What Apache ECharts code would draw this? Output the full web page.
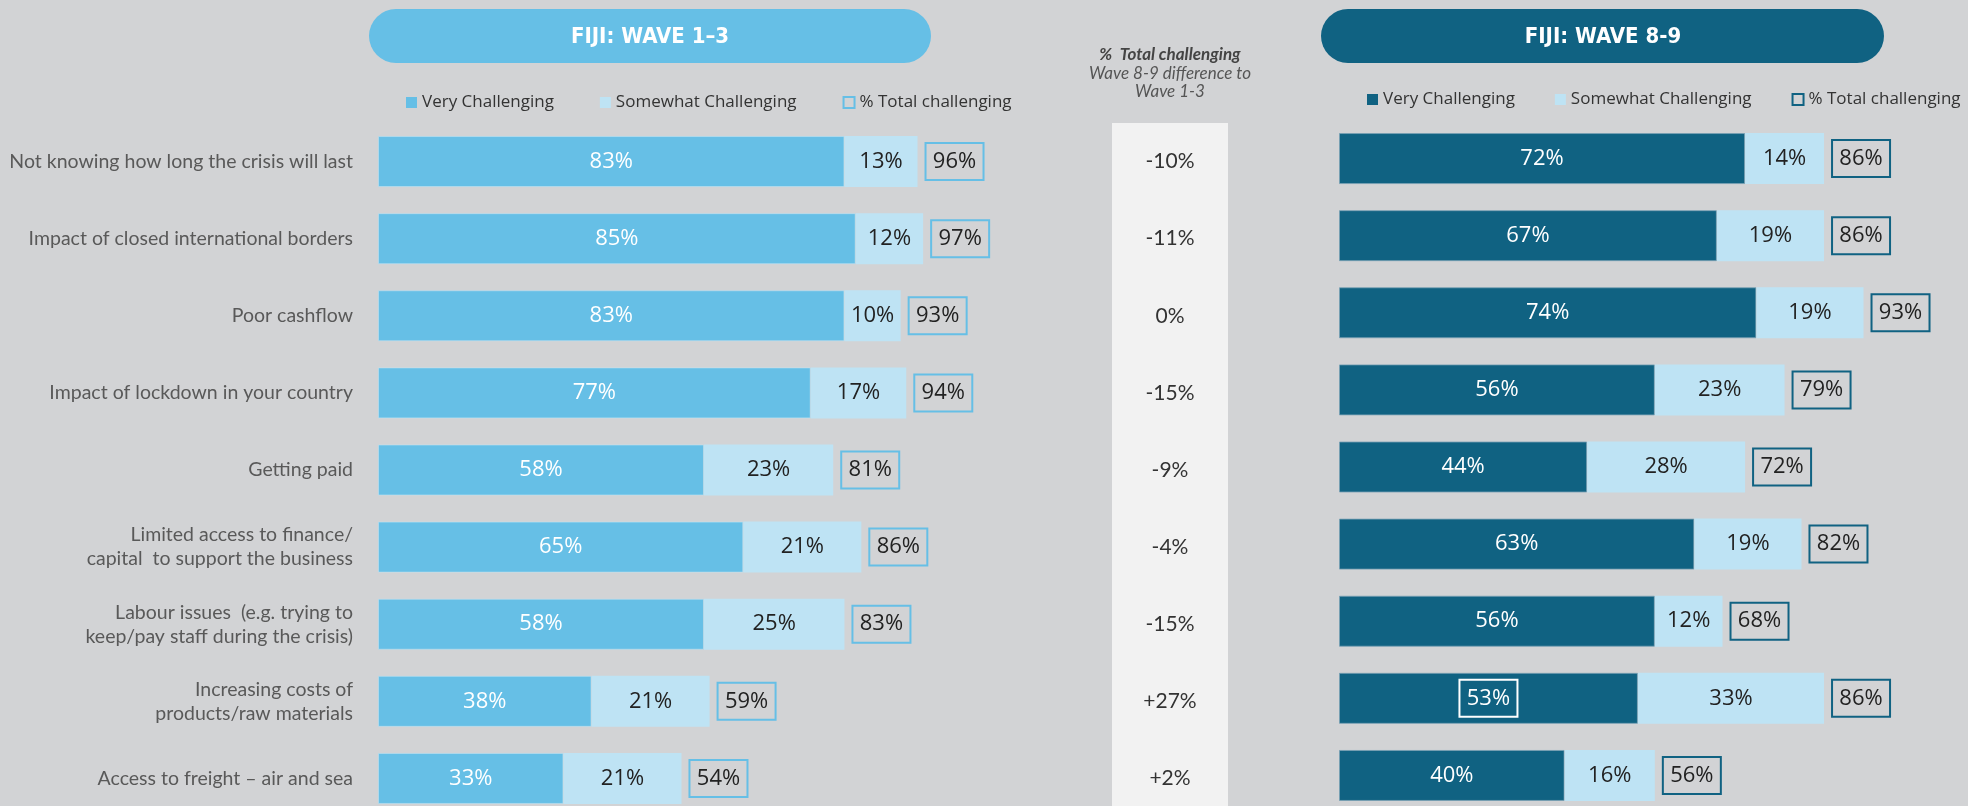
<!DOCTYPE html>
<html>
<head>
<meta charset="utf-8">
<script src="https://cdn.jsdelivr.net/npm/echarts@6/dist/echarts.min.js"></script>
<style>
  html, body { margin: 0; padding: 0; background: #d2d3d5; }
  #main { width: 1968px; height: 806px; }
</style>
</head>
<body>
<div id="main"></div>
<script>
// categories (top to bottom)
var categories = [
  'Not knowing how long the crisis will last',
  'Impact of closed international borders',
  'Poor cashflow',
  'Impact of lockdown in your country',
  'Getting paid',
  'Limited access to finance/\ncapital  to support the business',
  'Labour issues  (e.g. trying to\nkeep/pay staff during the crisis)',
  'Increasing costs of\nproducts/raw materials',
  'Access to freight \u2013 air and sea'
]
// Wave 1-3
var w13Very = [83, 85, 83, 77, 58, 65, 58, 38, 33]
var w13Some = [13, 12, 10, 17, 23, 21, 25, 21, 21]
var w13Total = [96, 97, 93, 94, 81, 86, 83, 59, 54]
// Wave 8-9
var w89Very = [72, 67, 74, 56, 44, 63, 56, 53, 40]
var w89Some = [14, 19, 19, 23, 28, 19, 12, 33, 16]
var w89Total = [86, 86, 93, 79, 72, 82, 68, 86, 56]
// difference column
var diffLabels = ['-10%', '-11%', '0%', '-15%', '-9%', '-4%', '-15%', '+27%', '+2%']

var LIGHT = '#66bfe6'
var PALE = '#bee3f4'
var DARK = '#106282'
var NUM_FONT = "'Open Sans', sans-serif"
var COND_FONT = "'Liberation Sans Narrow', 'DejaVu Sans Condensed', 'Open Sans', sans-serif"

var chart = echarts.init(document.getElementById('main'))

function boxLabel(color) {
  return {
    show: true,
    position: 'right',
    distance: 8,
    borderColor: color,
    borderWidth: 2,
    formatter: function(p) { return '{t|' + p.value + '%}' },
    rich: {
      t: { width: 58, height: 37, lineHeight: 37, align: 'center', fontSize: 22, fontFamily: NUM_FONT, color: '#222' }
    }
  }
}

function veryData(arr, highlight) {
  return arr.map(function(v, i) {
    if (i !== highlight) return v
    return {
      value: v,
      label: {
        borderColor: '#fff',
        borderWidth: 2,
        formatter: function(p) { return '{t|' + p.value + '%}' },
        rich: { t: { width: 58, height: 37, lineHeight: 37, align: 'center', fontSize: 22, fontFamily: NUM_FONT, color: '#fff' } }
      }
    }
  })
}

function legendOf(left, top, color, gap) {
  return {
    left: left,
    top: top,
    itemWidth: 11,
    itemHeight: 11,
    itemGap: gap,
    selectedMode: false,
    textStyle: { fontFamily: NUM_FONT, fontSize: 17, color: '#333' },
    data: [
      { name: 'Very Challenging', icon: 'rect', itemStyle: { color: color, borderWidth: 0 } },
      { name: 'Somewhat Challenging', icon: 'rect', itemStyle: { color: PALE, borderWidth: 0 } },
      { name: '% Total challenging', icon: 'rect', itemStyle: { color: 'transparent', borderColor: color, borderWidth: 2 } }
    ]
  }
}

var option = {
  backgroundColor: '#d2d3d5',
  animation: false,
  graphic: [
    { type: 'rect', shape: { x: 369, y: 9, width: 562, height: 54, r: 27 }, style: { fill: LIGHT } },
    { type: 'text', style: { text: 'FIJI: WAVE 1\u20133', x: 650, y: 37, align: 'center', verticalAlign: 'middle', font: 'bold 22px ' + COND_FONT, fill: '#fff' } },
    { type: 'rect', shape: { x: 1321, y: 9, width: 563, height: 54, r: 27 }, style: { fill: DARK } },
    { type: 'text', style: { text: 'FIJI: WAVE 8-9', x: 1603, y: 37, align: 'center', verticalAlign: 'middle', font: 'bold 22px ' + COND_FONT, fill: '#fff' } },
    { type: 'text', style: { text: '%  Total challenging', x: 1170, y: 55, align: 'center', verticalAlign: 'middle', font: 'italic bold 17px Lato, sans-serif', fill: '#444' } },
    { type: 'text', style: { text: 'Wave 8-9 difference to', x: 1170, y: 74, align: 'center', verticalAlign: 'middle', font: 'italic 17px Lato, sans-serif', fill: '#555' } },
    { type: 'text', style: { text: 'Wave 1-3', x: 1170, y: 92, align: 'center', verticalAlign: 'middle', font: 'italic 17px Lato, sans-serif', fill: '#555' } }
  ],
  legend: [legendOf(401, 89, LIGHT, 46), legendOf(1362, 86, DARK, 40)],
  grid: [
    { left: 378, top: 123, width: 562, height: 694, outerBoundsMode: 'none' },
    { left: 1339, top: 120, width: 564, height: 694, outerBoundsMode: 'none' },
    { left: 1112, top: 123, width: 116, height: 694, outerBoundsMode: 'none', show: true, backgroundColor: '#f2f2f2', borderWidth: 0 }
  ],
  xAxis: [
    { gridIndex: 0, type: 'value', min: 0, max: 100, show: false },
    { gridIndex: 1, type: 'value', min: 0, max: 100, show: false },
    { gridIndex: 2, type: 'value', min: 0, max: 1, show: false }
  ],
  yAxis: [
    {
      gridIndex: 0, type: 'category', inverse: true, data: categories,
      axisLine: { show: false }, axisTick: { show: false },
      axisLabel: { margin: 25, fontFamily: 'Lato, sans-serif', fontSize: 19.5, color: '#595959', lineHeight: 24, align: 'right' }
    },
    {
      gridIndex: 1, type: 'category', inverse: true, data: categories,
      axisLine: { show: false }, axisTick: { show: false }, axisLabel: { show: false }
    },
    {
      gridIndex: 2, type: 'category', inverse: true, data: diffLabels,
      axisLine: { show: false }, axisTick: { show: false },
      axisLabel: { margin: -58, align: 'center', fontFamily: 'Lato, sans-serif', fontSize: 21, color: '#333' }
    }
  ],
  series: [
    {
      name: 'Very Challenging', type: 'bar', stack: 'w13', xAxisIndex: 0, yAxisIndex: 0,
      barWidth: 51, data: w13Very,
      itemStyle: { color: LIGHT, borderColor: 'rgba(190,227,244,0.6)', borderWidth: 1 },
      label: { show: true, position: 'inside', formatter: '{c}%', fontFamily: NUM_FONT, fontSize: 22, color: '#fff' }
    },
    {
      name: 'Somewhat Challenging', type: 'bar', stack: 'w13', xAxisIndex: 0, yAxisIndex: 0,
      barWidth: 51, data: w13Some,
      itemStyle: { color: PALE },
      label: { show: true, position: 'inside', formatter: '{c}%', fontFamily: NUM_FONT, fontSize: 22, color: '#222' }
    },
    {
      name: '% Total challenging', type: 'bar', xAxisIndex: 0, yAxisIndex: 0,
      barWidth: 51, barGap: '-100%', data: w13Total,
      itemStyle: { color: 'transparent' },
      label: boxLabel(LIGHT)
    },
    {
      name: 'Very Challenging', type: 'bar', stack: 'w89', xAxisIndex: 1, yAxisIndex: 1,
      barWidth: 51, data: veryData(w89Very, 7),
      itemStyle: { color: DARK, borderColor: 'rgba(120,160,180,0.8)', borderWidth: 1 },
      label: { show: true, position: 'inside', formatter: '{c}%', fontFamily: NUM_FONT, fontSize: 22, color: '#fff' }
    },
    {
      name: 'Somewhat Challenging', type: 'bar', stack: 'w89', xAxisIndex: 1, yAxisIndex: 1,
      barWidth: 51, data: w89Some,
      itemStyle: { color: PALE },
      label: { show: true, position: 'inside', formatter: '{c}%', fontFamily: NUM_FONT, fontSize: 22, color: '#222' }
    },
    {
      name: '% Total challenging', type: 'bar', xAxisIndex: 1, yAxisIndex: 1,
      barWidth: 51, barGap: '-100%', data: w89Total,
      itemStyle: { color: 'transparent' },
      label: boxLabel(DARK)
    }
  ]
}

chart.setOption(option)
</script>
</body>
</html>
